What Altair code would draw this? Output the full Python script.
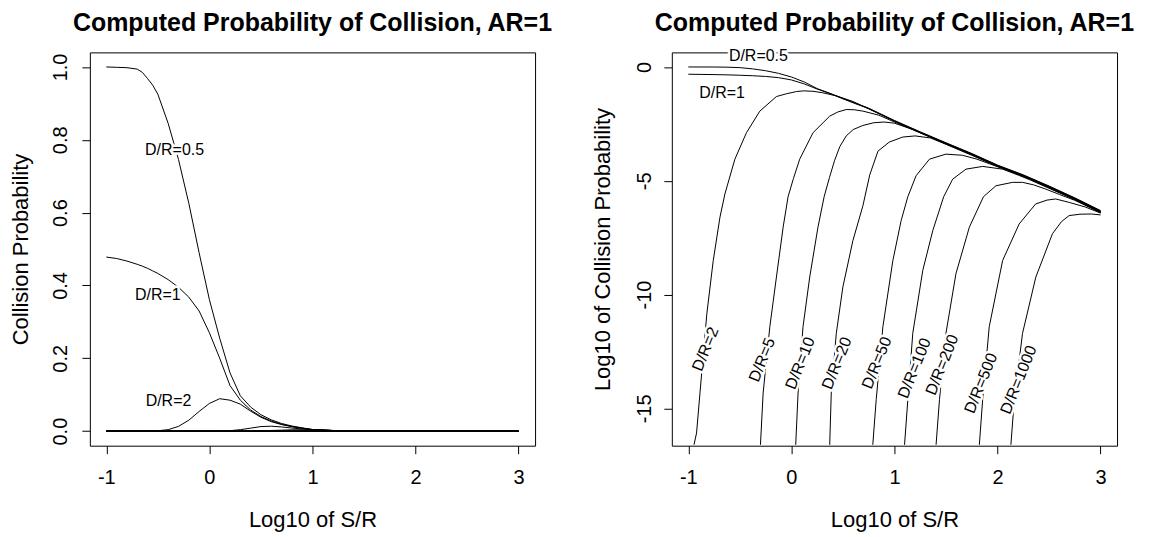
import altair as alt
import pandas as pd

FONT = "Liberation Sans"
TITLE = "Computed Probability of Collision, AR=1"
CURVES = ["D/R=0.5", "D/R=1", "D/R=2", "D/R=5", "D/R=10", "D/R=20",
          "D/R=50", "D/R=100", "D/R=200", "D/R=500", "D/R=1000"]

# ---------------- left panel: probability on a linear scale ----------------
LX = [-1.0, -0.9, -0.8, -0.7, -0.65, -0.6, -0.55, -0.5, -0.4, -0.3, -0.2, -0.1, 0.0, 0.1, 0.2,
      0.3, 0.4, 0.5, 0.6, 0.7, 0.8, 0.9, 1.0, 1.2, 1.5, 2.0, 2.5, 3.0]
LIN_05 = [1.0, 0.999, 0.998, 0.994, 0.985, 0.968, 0.95, 0.925, 0.845, 0.746, 0.626, 0.49, 0.361, 0.255, 0.16,
          0.097, 0.066, 0.045, 0.031, 0.021, 0.014, 0.009, 0.0045, 0.0018, 0.00047, 0.00005, 0.000006, 0.0000005]
LIN_1 = [0.478, 0.474, 0.467, 0.458, 0.453, 0.447, 0.44, 0.433, 0.416, 0.395, 0.368, 0.33, 0.27, 0.2, 0.125,
         0.085, 0.058, 0.04, 0.028, 0.019, 0.013, 0.008, 0.0043, 0.0017, 0.00046, 0.00005, 0.000006, 0.0000005]
LIN_2 = [0.0, 0.0, 0.0, 0.0, 0.0, 0.0002, 0.0005, 0.001, 0.004, 0.013, 0.03, 0.054, 0.076, 0.089, 0.085,
         0.074, 0.055, 0.038, 0.026, 0.018, 0.012, 0.008, 0.0042, 0.0017, 0.00045, 0.00005, 0.000006, 0.0000005]
LIN_5 = [0.0, 0.0, 0.0, 0.0, 0.0, 0.0, 0.0, 0.0, 0.0, 0.0, 0.0, 0.0, 0.0, 0.0002, 0.0012,
         0.004, 0.0082, 0.0125, 0.0135, 0.0115, 0.0085, 0.006, 0.0038, 0.0016, 0.00044, 0.00005, 0.000006, 0.0000005]
LIN_10 = [0.0, 0.0, 0.0, 0.0, 0.0, 0.0, 0.0, 0.0, 0.0, 0.0, 0.0, 0.0, 0.0, 0.0, 0.0,
          0.0, 0.0001, 0.0007, 0.0018, 0.0026, 0.0036, 0.0038, 0.0033, 0.0016, 0.00043, 0.00005, 0.000006, 0.0000005]
LIN_20 = [0.0, 0.0, 0.0, 0.0, 0.0, 0.0, 0.0, 0.0, 0.0, 0.0, 0.0, 0.0, 0.0, 0.0, 0.0,
          0.0, 0.0, 0.0, 0.0, 0.000001, 0.00008, 0.0004, 0.0007, 0.00093, 0.0004, 0.00004, 0.000005, 0.0000004]
LIN_50 = [0.0, 0.0, 0.0, 0.0, 0.0, 0.0, 0.0, 0.0, 0.0, 0.0, 0.0, 0.0, 0.0, 0.0, 0.0,
          0.0, 0.0, 0.0, 0.0, 0.0, 0.0, 0.0, 0.000003, 0.000017, 0.00015, 0.00004, 0.000005, 0.0000004]
LIN_100 = [0.0, 0.0, 0.0, 0.0, 0.0, 0.0, 0.0, 0.0, 0.0, 0.0, 0.0, 0.0, 0.0, 0.0, 0.0,
           0.0, 0.0, 0.0, 0.0, 0.0, 0.0, 0.0, 0.0, 0.0, 0.000002, 0.000035, 0.0000047, 0.0000004]
LIN_200 = [0.0, 0.0, 0.0, 0.0, 0.0, 0.0, 0.0, 0.0, 0.0, 0.0, 0.0, 0.0, 0.0, 0.0, 0.0,
           0.0, 0.0, 0.0, 0.0, 0.0, 0.0, 0.0, 0.0, 0.0, 0.0, 0.000006, 0.000004, 0.0000004]
LIN_500 = [0.0, 0.0, 0.0, 0.0, 0.0, 0.0, 0.0, 0.0, 0.0, 0.0, 0.0, 0.0, 0.0, 0.0, 0.0,
           0.0, 0.0, 0.0, 0.0, 0.0, 0.0, 0.0, 0.0, 0.0, 0.0, 0.0, 0.0000015, 0.0000004]
LIN_1000 = [0.0, 0.0, 0.0, 0.0, 0.0, 0.0, 0.0, 0.0, 0.0, 0.0, 0.0, 0.0, 0.0, 0.0, 0.0,
            0.0, 0.0, 0.0, 0.0, 0.0, 0.0, 0.0, 0.0, 0.0, 0.0, 0.0, 0.0, 0.0000003]
LIN_ALL = [LIN_05, LIN_1, LIN_2, LIN_5, LIN_10, LIN_20, LIN_50, LIN_100, LIN_200, LIN_500, LIN_1000]

LEFT_LAB = ["D/R=0.5", "D/R=1", "D/R=2"]
LEFT_LAB_X = [-0.338, -0.5, -0.397]
LEFT_LAB_Y = [0.771, 0.375, 0.082]

# ---------------- right panel: log10 of probability ----------------
R05_X = [-1.0, -0.75, -0.625, -0.5, -0.375, -0.25, -0.125, 0.0, 0.125, 0.25, 0.375, 0.5, 0.625, 0.75,
         1.0, 1.25, 1.5, 1.75, 2.0, 2.25, 2.5, 2.75, 3.0]
R05_Y = [0.0, -0.002, -0.01, -0.03, -0.085, -0.165, -0.28, -0.44, -0.66, -0.95, -1.16, -1.38, -1.6, -1.81,
         -2.35, -2.85, -3.33, -3.80, -4.31, -4.74, -5.23, -5.75, -6.31]
R1_X = [-1.0, -0.75, -0.625, -0.5, -0.375, -0.25, -0.125, 0.0, 0.125, 0.25, 0.375, 0.5, 0.625, 0.75,
        1.0, 1.25, 1.5, 1.75, 2.0, 2.25, 2.5, 2.75, 3.0]
R1_Y = [-0.32, -0.335, -0.347, -0.364, -0.386, -0.417, -0.47, -0.57, -0.745, -0.97, -1.17, -1.40, -1.62, -1.83,
        -2.37, -2.87, -3.35, -3.82, -4.33, -4.76, -5.25, -5.77, -6.33]
R2_X = [-0.945, -0.92, -0.887, -0.82, -0.758, -0.693, -0.645, -0.548, -0.436, -0.306, -0.145, -0.05, 0.05,
        0.12, 0.21, 0.3, 0.436, 0.6, 0.75, 1.0, 1.25, 1.5, 1.75, 2.0, 2.25, 2.5, 2.75, 3.0]
R2_Y = [-16.6, -16.08, -14.33, -10.83, -8.5, -6.6, -5.58, -4.05, -2.89, -1.94, -1.3, -1.18, -1.08,
        -1.05, -1.07, -1.13, -1.27, -1.52, -1.84, -2.38, -2.88, -3.36, -3.83, -4.34, -4.77, -5.26, -5.78, -6.34]
R5_X = [-0.30, -0.274, -0.209, -0.145, -0.08, -0.032, 0.02, 0.081, 0.21, 0.372, 0.45, 0.532, 0.61, 0.694,
        0.85, 1.0, 1.25, 1.5, 1.75, 2.0, 2.25, 2.5, 2.75, 3.0]
R5_Y = [-16.6, -14.33, -11.41, -9.23, -7.04, -5.7, -4.9, -4.05, -2.89, -2.16, -1.98, -1.87, -1.88, -1.94,
        -2.12, -2.42, -2.89, -3.37, -3.84, -4.35, -4.78, -5.27, -5.79, -6.35]
R10_X = [0.042, 0.065, 0.113, 0.178, 0.258, 0.318, 0.37, 0.42, 0.47, 0.532, 0.6, 0.694, 0.8, 0.9, 1.0,
         1.16, 1.34, 1.5, 1.75, 2.0, 2.25, 2.5, 2.75, 3.0]
R10_Y = [-16.6, -14.33, -11.41, -9.23, -7.04, -5.7, -4.85, -4.1, -3.5, -3.03, -2.75, -2.57, -2.45, -2.42, -2.47,
         -2.72, -3.07, -3.38, -3.86, -4.36, -4.79, -5.28, -5.8, -6.36]
R20_X = [0.372, 0.387, 0.436, 0.50, 0.597, 0.694, 0.76, 0.84, 0.95, 1.08, 1.2, 1.35, 1.5, 1.75, 2.0,
         2.25, 2.5, 2.75, 3.0]
R20_Y = [-16.6, -14.33, -11.7, -9.66, -7.63, -6.1, -4.75, -3.7, -3.3, -3.08, -3.03, -3.12, -3.4, -3.88, -4.37,
         -4.8, -5.29, -5.81, -6.37]
R50_X = [0.79, 0.823, 0.888, 0.985, 1.065, 1.13, 1.21, 1.34, 1.5, 1.66, 1.8, 1.92, 2.1, 2.25, 2.5, 2.75, 3.0]
R50_Y = [-16.6, -14.62, -11.41, -8.5, -6.75, -5.7, -4.78, -4.05, -3.83, -3.88, -4.05, -4.25, -4.55, -4.8,
         -5.31, -5.82, -6.38]
R100_X = [1.098, 1.13, 1.178, 1.275, 1.372, 1.478, 1.565, 1.694, 1.856, 2.05, 2.2, 2.31, 2.5, 2.75, 3.0]
R100_Y = [-16.6, -14.62, -11.7, -8.94, -7.19, -5.7, -4.93, -4.49, -4.37, -4.49, -4.75, -4.95, -5.33, -5.83, -6.39]
R200_X = [1.404, 1.437, 1.50, 1.597, 1.727, 1.864, 1.985, 2.146, 2.243, 2.35, 2.47, 2.6, 2.75, 3.0]
R200_Y = [-16.6, -14.62, -11.7, -9.08, -7.04, -5.7, -5.22, -5.07, -5.07, -5.18, -5.37, -5.6, -5.86, -6.4]
R500_X = [1.824, 1.856, 1.92, 2.05, 2.21, 2.37, 2.48, 2.565, 2.695, 2.85, 3.0]
R500_Y = [-16.6, -14.62, -11.41, -8.5, -6.9, -6.02, -5.85, -5.8, -5.95, -6.15, -6.42]
R1000_X = [2.13, 2.163, 2.243, 2.372, 2.533, 2.62, 2.695, 2.8, 2.91, 3.0]
R1000_Y = [-16.6, -14.62, -11.7, -9.23, -7.33, -6.8, -6.53, -6.47, -6.46, -6.5]
R_ALL = [(R05_X, R05_Y), (R1_X, R1_Y), (R2_X, R2_Y), (R5_X, R5_Y), (R10_X, R10_Y), (R20_X, R20_Y),
         (R50_X, R50_Y), (R100_X, R100_Y), (R200_X, R200_Y), (R500_X, R500_Y), (R1000_X, R1000_Y)]

RIGHT_FLAT_LAB = ["D/R=0.5", "D/R=1"]
RIGHT_FLAT_X = [-0.32, -0.673]
RIGHT_FLAT_Y = [0.49, -1.137]
RIGHT_ROT_LAB = ["D/R=2", "D/R=5", "D/R=10", "D/R=20", "D/R=50", "D/R=100", "D/R=200", "D/R=500", "D/R=1000"]
RIGHT_ROT_X = [-0.833, -0.284, 0.087, 0.442, 0.83, 1.195, 1.463, 1.84, 2.205]
RIGHT_ROT_Y = [-12.4, -12.87, -13.02, -13.02, -13.0, -13.24, -13.09, -13.9, -13.75]

X_TICKS = [-1, 0, 1, 2, 3]
Y_TICKS_LEFT = [0.0, 0.2, 0.4, 0.6, 0.8, 1.0]
Y_TICKS_RIGHT = [-15, -10, -5, 0]

# ---------------- tables ----------------
rows = []
for name, ys in zip(CURVES, LIN_ALL):
    for i, (xv, yv) in enumerate(zip(LX, ys)):
        rows.append({"curve": name, "i": i, "x": xv, "y": yv})
left_df = pd.DataFrame(rows)

rows = []
for name, (xs_, ys_) in zip(CURVES, R_ALL):
    for i, (xv, yv) in enumerate(zip(xs_, ys_)):
        rows.append({"curve": name, "i": i, "x": xv, "y": yv})
right_df = pd.DataFrame(rows)

left_lab = pd.DataFrame({"x": LEFT_LAB_X, "y": LEFT_LAB_Y, "t": LEFT_LAB})
right_flat = pd.DataFrame({"x": RIGHT_FLAT_X, "y": RIGHT_FLAT_Y, "t": RIGHT_FLAT_LAB})
right_rot = pd.DataFrame({"x": RIGHT_ROT_X, "y": RIGHT_ROT_Y, "t": RIGHT_ROT_LAB})

W, H = 446, 394
LAB_SIZE = 16

x_enc = alt.X("x:Q", scale=alt.Scale(domain=[-1.16, 3.16], nice=False, zero=False),
              axis=alt.Axis(values=X_TICKS, labelExpr="'' + datum.value", title="Log10 of S/R",
                            grid=False, domain=False, tickSize=8, labelPadding=30,
                            labelBaseline="alphabetic", labelFlush=False, labelOverlap=False,
                            titleX=W / 2, titleY=81, titleAlign="center", titleBaseline="alphabetic"))


def y_enc(domain, ticks, title, fmt=None, pad=15):
    kw = dict(values=ticks, title=title, grid=False, domain=False, tickSize=8,
              labelAngle=270, labelAlign="center", labelBaseline="alphabetic",
              labelPadding=pad, labelFlush=False, labelOverlap=False,
              titleAngle=270, titleX=-62, titleY=H / 2, titleAlign="center",
              titleBaseline="alphabetic")
    if fmt:
        kw["format"] = fmt
    else:
        kw["labelExpr"] = "'' + datum.value"
    return alt.Y("y:Q", scale=alt.Scale(domain=domain, nice=False, zero=False), axis=alt.Axis(**kw))


def labels(df, yenc, angle=0):
    halo = alt.Chart(df).mark_text(font=FONT, fontSize=LAB_SIZE, fill="white", stroke="white",
                                   strokeWidth=5, strokeJoin="round", angle=angle,
                                   align="center", baseline="middle").encode(x=x_enc, y=yenc, text="t:N")
    txt = alt.Chart(df).mark_text(font=FONT, fontSize=LAB_SIZE, color="black", angle=angle,
                                  align="center", baseline="middle").encode(x=x_enc, y=yenc, text="t:N")
    return [halo, txt]


def make_title(dy):
    return alt.TitleParams(TITLE, font=FONT, fontSize=25, fontWeight="bold", color="black",
                           anchor="middle", baseline="alphabetic", offset=-4, dy=dy, frame="group")


yl = y_enc([-0.04, 1.04], Y_TICKS_LEFT, "Collision Probability", fmt=".1f", pad=15)
left_lines = alt.Chart(left_df).mark_line(color="black", strokeWidth=1, clip=True).encode(
    x=x_enc, y=yl, detail="curve:N", order="i:Q")
left = alt.layer(left_lines, *labels(left_lab, yl)).properties(width=W, height=H, title=make_title(0))

yr = y_enc([-16.64, 0.64], Y_TICKS_RIGHT, "Log10 of Collision Probability", pad=13)
right_lines = alt.Chart(right_df).mark_line(color="black", strokeWidth=1, clip=True).encode(
    x=x_enc, y=yr, detail="curve:N", order="i:Q")
right = alt.layer(right_lines, *labels(right_flat, yr), *labels(right_rot, yr, angle=292)).properties(
    width=W, height=H, title=make_title(4))

chart = alt.hconcat(left, right, spacing=137, bounds="flush").properties(
    padding={"left": 1, "top": 1, "right": 5, "bottom": 5}
).configure_view(stroke="black", strokeWidth=1).configure_axis(
    labelFont=FONT, titleFont=FONT, labelFontSize=20, titleFontSize=22,
    labelColor="black", titleColor="black", tickColor="black", tickWidth=1,
    titleFontWeight="normal"
)

chart.save("out.html", embed_options={"renderer": "svg", "actions": False})
